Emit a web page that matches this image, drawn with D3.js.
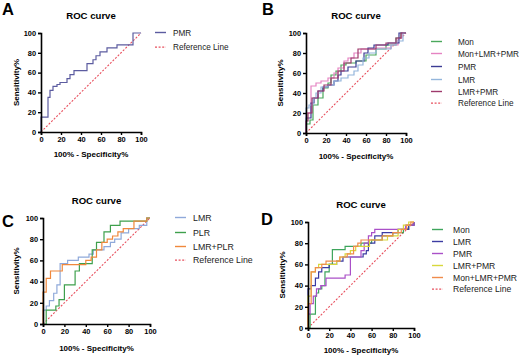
<!DOCTYPE html>
<html lang="en">
<head>
    <meta charset="UTF-8">
    <title>ROC curves</title>
    <script src="https://d3js.org/d3.v7.min.js"></script>
    <style>
        body { margin: 0; background: #fff; font-family: Arial, "Liberation Sans", sans-serif; }
    </style>
</head>
<body>
    <div id="chart"></div>
    <script>
        // ROC vertices, [100% - specificity, sensitivity], drawn as steps (right then up)
        const aPMR = [[0,0],[0,15],[7,35],[9,42],[12,46],[16,48],[19,50],[26,54],[29,58],[33,62],[46,69],[52,73],[55,77],[59,81],[66,85],[76,88],[92,100],[100,100]];

        const bMon = [[0,0],[0,9],[4,13],[7,28],[12,35],[17,45],[22,50],[25,58],[30,62],[35,68],[40,70],[50,72],[60,78],[70,84],[80,88],[90,95],[95,100],[100,100]];
        const bMonLmrPmr = [[0,0],[0,20],[5,47],[10,50],[15,52],[22,55],[28,60],[32,65],[38,72],[42,75],[48,80],[55,84],[70,85],[85,88],[92,95],[96,100],[100,100]];
        const bPMR = [[0,0],[0,15],[5,30],[8,35],[12,42],[17,46],[22,48],[28,52],[32,58],[35,62],[42,66],[50,72],[58,80],[62,85],[68,88],[82,90],[93,100],[100,100]];
        const bLMR = [[0,0],[0,25],[3,28],[7,35],[10,40],[15,46],[22,48],[28,52],[35,55],[42,58],[48,62],[52,68],[57,75],[63,80],[70,84],[85,88],[90,92],[97,100],[100,100]];
        const bLmrPmr = [[0,0],[0,12],[2,20],[6,35],[12,42],[18,48],[25,55],[32,62],[38,70],[45,75],[52,84],[70,88],[80,90],[90,95],[95,100],[100,100]];

        const cLMR = [[0,0],[0,13],[3,17],[6,22],[10,29],[13,37],[16,57],[23,60],[33,63],[43,66],[47,70],[57,73],[63,77],[67,80],[73,86],[80,90],[90,93],[97,100],[100,100]];
        const cPLR = [[0,0],[3,13],[12,17],[15,23],[20,37],[30,50],[34,57],[46,70],[50,77],[57,87],[63,93],[72,97],[97,100],[100,100]];
        const cLmrPlr = [[0,0],[0,30],[3,43],[7,50],[14,50],[18,56],[40,60],[45,63],[50,70],[55,77],[60,80],[65,83],[70,87],[75,90],[85,97],[97,97],[97,100],[100,100]];

        const dMon = [[0,0],[2,13],[7,30],[8,33],[10,37],[13,40],[16,53],[20,60],[23,74],[35,77],[50,80],[60,83],[70,87],[80,90],[90,93],[95,97],[100,100]];
        const dLMR = [[0,0],[0,37],[3,40],[7,47],[10,53],[13,57],[20,60],[27,63],[33,67],[47,67],[52,70],[55,73],[57,80],[63,87],[70,90],[85,93],[95,97],[100,100]];
        const dPMR = [[0,0],[0,13],[2,23],[5,30],[8,37],[12,40],[17,47],[30,47],[35,50],[40,67],[50,73],[53,80],[57,87],[60,90],[63,93],[85,93],[92,97],[100,100]];
        const dLmrPmr = [[0,0],[0,30],[3,37],[3,53],[7,57],[10,60],[27,63],[30,67],[35,70],[40,73],[45,77],[58,83],[70,83],[75,87],[85,93],[90,97],[95,100],[100,100]];
        const dMonLmrPmr = [[0,0],[0,23],[3,53],[7,57],[13,60],[17,63],[30,67],[37,70],[43,77],[47,80],[50,83],[65,83],[70,87],[80,90],[88,93],[93,97],[97,100],[100,100]];

        const refLine = [[0,0],[100,100]];
        const tickValues = [0, 20, 40, 60, 80, 100];

        const panels = [
            { letter: "A", lx: 2, ly: 15, x0: 41, x1: 141, y0: 33, y1: 132, titleY: 19, xLabY: 157, yLabX: 16,
              legX: 155, legTextX: 173, legY: [32.5, 47.2], fs: 8.2,
              series: [{ name: "PMR", data: aPMR, color: "#5c5ca0" }] },
            { letter: "B", lx: 262, ly: 15, x0: 306, x1: 406, y0: 33, y1: 133, titleY: 19, xLabY: 159, yLabX: 280,
              legX: 431, legTextX: 458, legY: [41.5, 53.5, 66.5, 79.5, 91.5, 103.2], fs: 8.2,
              series: [
                { name: "Mon", data: bMon, color: "#4aa85c" },
                { name: "Mon+LMR+PMR", data: bMonLmrPmr, color: "#e583c2" },
                { name: "PMR", data: bPMR, color: "#3c3c94" },
                { name: "LMR", data: bLMR, color: "#94b6dc" },
                { name: "LMR+PMR", data: bLmrPmr, color: "#9e3a6c" }] },
            { letter: "C", lx: 2, ly: 227, x0: 43, x1: 150, y0: 218, y1: 324, titleY: 204, xLabY: 351, yLabX: 16,
              legX: 175, legTextX: 193, legY: [217.5, 232.5, 246.5, 260.2], fs: 8.8,
              series: [
                { name: "LMR", data: cLMR, color: "#8fa9da" },
                { name: "PLR", data: cPLR, color: "#3ea04c" },
                { name: "LMR+PLR", data: cLmrPlr, color: "#f0883c" }] },
            { letter: "D", lx: 261, ly: 225, x0: 308, x1: 414, y0: 222, y1: 328, titleY: 208, xLabY: 353, yLabX: 281.5,
              legX: 432, legTextX: 453, legY: [229.5, 241.5, 253.5, 265.5, 277.5, 289.2], fs: 8.6,
              series: [
                { name: "Mon", data: dMon, color: "#3ea55c" },
                { name: "LMR", data: dLMR, color: "#3c3ca2" },
                { name: "PMR", data: dPMR, color: "#aa50c8" },
                { name: "LMR+PMR", data: dLmrPmr, color: "#d8d83c" },
                { name: "Mon+LMR+PMR", data: dMonLmrPmr, color: "#f08c4c" }] }
        ];

        const refColor = "#e8505e";

        const svg = d3.select("#chart")
            .append("svg")
            .attr("width", 520)
            .attr("height", 359);

        panels.forEach(p => {
            const g = svg.append("g");
            const x = d3.scaleLinear().domain([0, 100]).range([p.x0, p.x1]);
            const y = d3.scaleLinear().domain([0, 100]).range([p.y1, p.y0]);

            // panel letter
            g.append("text")
                .attr("x", p.lx).attr("y", p.ly)
                .attr("font-size", 16.5).attr("font-weight", "bold")
                .text(p.letter);

            // title
            g.append("text")
                .attr("x", (p.x0 + p.x1) / 2).attr("y", p.titleY)
                .attr("text-anchor", "middle")
                .attr("font-size", 9.6).attr("font-weight", "bold")
                .text("ROC curve");

            // reference diagonal
            const line = d3.line().x(d => x(d[0])).y(d => y(d[1]));
            g.append("path")
                .datum(refLine)
                .attr("fill", "none")
                .attr("stroke", refColor)
                .attr("stroke-width", 1.1)
                .attr("stroke-dasharray", "2,1.6")
                .attr("d", line);

            // ROC curves
            const stepLine = d3.line().x(d => x(d[0])).y(d => y(d[1])).curve(d3.curveStepAfter);
            p.series.forEach(s => {
                g.append("path")
                    .datum(s.data)
                    .attr("fill", "none")
                    .attr("stroke", s.color)
                    .attr("stroke-width", 1.2)
                    .attr("d", stepLine);
            });

            // axes
            const xAxis = d3.axisBottom(x).tickValues(tickValues).tickSize(3).tickPadding(2).tickFormat(d3.format("d"));
            const yAxis = d3.axisLeft(y).tickValues(tickValues).tickSize(3).tickPadding(2).tickFormat(d3.format("d"));
            const gx = g.append("g").attr("transform", `translate(0,${p.y1})`).call(xAxis);
            const gy = g.append("g").attr("transform", `translate(${p.x0},0)`).call(yAxis);
            [gx, gy].forEach(a => {
                a.select(".domain").attr("stroke-width", 1.6);
                a.selectAll(".tick line").attr("stroke-width", 1.4);
                a.selectAll(".tick text")
                    .attr("font-size", 7.4)
                    .attr("font-weight", "bold")
                    .attr("font-family", "Arial, 'Liberation Sans', sans-serif")
                    .attr("fill", "#000");
            });

            // axis labels
            g.append("text")
                .attr("x", (p.x0 + p.x1) / 2).attr("y", p.xLabY)
                .attr("text-anchor", "middle")
                .attr("font-size", 8).attr("font-weight", "bold")
                .text("100% - Specificity%");
            g.append("text")
                .attr("transform", `translate(${p.yLabX + 3},${(p.y0 + p.y1) / 2}) rotate(-90)`)
                .attr("text-anchor", "middle")
                .attr("font-size", 8).attr("font-weight", "bold")
                .text("Sensitivity%");

            // legend
            const items = p.series.map(s => ({ name: s.name, color: s.color, dash: null }))
                .concat([{ name: "Reference Line", color: refColor, dash: "2,1.6" }]);
            items.forEach((it, i) => {
                const yy = p.legY[i];
                g.append("line")
                    .attr("x1", p.legX).attr("x2", p.legX + 11)
                    .attr("y1", yy).attr("y2", yy)
                    .attr("stroke", it.color)
                    .attr("stroke-width", it.dash ? 1.2 : 1.4)
                    .attr("stroke-dasharray", it.dash);
                g.append("text")
                    .attr("x", p.legTextX).attr("y", Math.round(yy) + 3)
                    .attr("font-size", p.fs)
                    .attr("fill", "#222")
                    .text(it.name);
            });
        });
    </script>
</body>
</html>
